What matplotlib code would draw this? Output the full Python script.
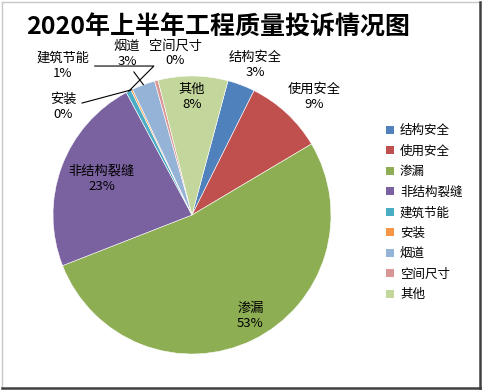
import numpy as np
import matplotlib
matplotlib.use("Agg")
import matplotlib.pyplot as plt
from matplotlib.patches import Rectangle
from matplotlib.lines import Line2D

plt.rcParams['font.family'] = ['Noto Sans CJK SC', 'DejaVu Sans']

# data (percent of complaints)
categories = ['结构安全', '使用安全', '渗漏', '非结构裂缝', '建筑节能', '安装', '烟道', '空间尺寸', '其他']
values = [3.2, 9.1, 52.6, 23.1, 0.6, 0.2, 2.7, 0.4, 8.1]
colors = ['#4F81BD', '#C0504D', '#8DAE52', '#7A61A0', '#4BACC6', '#F79646', '#95B3D7', '#D99694', '#C3D69B']
title = '2020年上半年工程质量投诉情况图'

# label layout: (distance in radii, clockwise angle from 12 o'clock)
label_pos = [(1.17, 23), (1.22, 46), (0.84, 150), (0.70, 292), (1.42, 319),
             (1.21, 310), (1.25, 338), (1.17, 354), (0.85, 0)]
leader = [False, False, False, False, True, True, True, False, False]

W, H = 482, 390
cx, cy, R = 192, 215, 139

fig = plt.figure(figsize=(W / 100, H / 100), dpi=100)
ax = fig.add_axes([0, 0, 1, 1])

wedges, _ = ax.pie(values, colors=colors, startangle=75, counterclock=False,
                   radius=1, center=(0, 0), wedgeprops=dict(linewidth=0.4, edgecolor='white'))
ax.set_aspect('auto')
ax.set_xlim(-cx / R, (W - cx) / R)
ax.set_ylim(-(H - cy) / R, cy / R)
ax.axis('off')

total = sum(values)
for w, cat, v, (d, a), ld in zip(wedges, categories, values, label_pos, leader):
    txt = f'{cat}\n{v / total * 100:.0f}%'
    t = np.deg2rad(90 - a)
    xt, yt = d * np.cos(t), d * np.sin(t)
    if ld:
        mid = np.deg2rad((w.theta1 + w.theta2) / 2)
        xe, ye = np.cos(mid), np.sin(mid)
        if cat == '烟道':
            ap = dict(arrowstyle='-', color='black', lw=0.8, relpos=(0.65, 0),
                      shrinkA=1, shrinkB=0)
        else:
            ap = dict(arrowstyle='-', color='black', lw=0.8, relpos=(1, 0.5),
                      shrinkA=2, shrinkB=0,
                      connectionstyle='angle,angleA=0,angleB=%d,rad=0' % (45 if cat == '建筑节能' else 15))
        ax.annotate(txt, xy=(xe, ye), xytext=(xt, yt), ha='center', va='center',
                    fontsize=9.5, linespacing=1.2, arrowprops=ap)
    else:
        ax.text(xt, yt, txt, ha='center', va='center', fontsize=9.5, linespacing=1.2)

fig.text(0.452, 1 - 28 / H, title, ha='center', va='center', fontsize=18, fontweight='bold')

handles = [Rectangle((0, 0), 1, 1, facecolor=c) for c in colors]
fig.legend(handles, categories, loc='upper left', bbox_to_anchor=(380 / W, 1 - 118 / H),
           frameon=False, fontsize=9, handlelength=0.6, handleheight=0.6,
           handletextpad=0.5, labelspacing=0.6, borderpad=0)

# chart frame
fig.add_artist(Line2D([1.5 / W, 1.5 / W], [1.5 / H, 1 - 1.5 / H], color='#c8c8c8', lw=1))
fig.add_artist(Line2D([1.5 / W, 1 - 1.5 / W], [1 - 1.5 / H, 1 - 1.5 / H], color='#c8c8c8', lw=1))
fig.add_artist(Line2D([1 - 2 / W, 1 - 2 / W], [1.5 / H, 1 - 1.5 / H], color='#404040', lw=1.8))
fig.add_artist(Line2D([1.5 / W, 1 - 1.5 / W], [2 / H, 2 / H], color='#404040', lw=1.8))

fig.savefig('out.png', dpi=100, facecolor='white')
